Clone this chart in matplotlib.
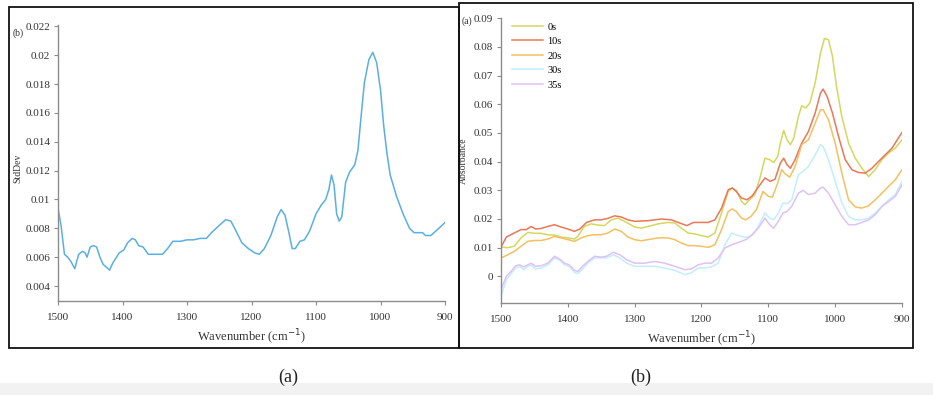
import matplotlib
matplotlib.use("Agg")
import matplotlib.pyplot as plt
from matplotlib.patches import Rectangle

plt.rcParams["font.family"] = ["Liberation Serif", "DejaVu Serif"]

# ---- panel (a) in the figure: standard deviation spectrum ----
std_wn = [1500, 1495, 1490, 1485, 1480, 1474, 1468, 1462, 1458, 1455, 1450, 1445, 1440,
          1435, 1430, 1420, 1415, 1405, 1398, 1392, 1385, 1380, 1375, 1368, 1360, 1350,
          1342, 1338, 1330, 1322, 1310, 1300, 1290, 1280, 1270, 1262, 1250, 1240, 1232,
          1225, 1215, 1205, 1195, 1188, 1180, 1170, 1160, 1154, 1148, 1142, 1137, 1132,
          1125, 1118, 1110, 1100, 1092, 1085, 1080, 1076, 1072, 1068, 1064, 1060, 1054,
          1048, 1040, 1035, 1030, 1025, 1018, 1012, 1006, 1000, 995, 990, 985, 975, 965,
          955, 948, 940, 935, 930, 922, 912, 900]
std_val = [0.0094, 0.0081, 0.0062, 0.0060, 0.0057, 0.0052, 0.0062, 0.0064, 0.0063, 0.0060,
           0.0067, 0.0068, 0.0067, 0.0060, 0.0055, 0.0051, 0.0056, 0.0063, 0.0065, 0.0070,
           0.0073, 0.0072, 0.0068, 0.0067, 0.0062, 0.0062, 0.0062, 0.0062, 0.0066, 0.0071,
           0.0071, 0.0072, 0.0072, 0.0073, 0.0073, 0.0077, 0.0082, 0.0086, 0.0085, 0.0079,
           0.0070, 0.0066, 0.0063, 0.0062, 0.0066, 0.0075, 0.0088, 0.0093, 0.0089, 0.0077,
           0.0066, 0.0066, 0.0071, 0.0072, 0.0078, 0.0090, 0.0096, 0.0100, 0.0107, 0.0117,
           0.0110, 0.0090, 0.0085, 0.0088, 0.0112, 0.0119, 0.0124, 0.0134, 0.0158, 0.0181,
           0.0197, 0.0202, 0.0195, 0.0176, 0.0151, 0.0132, 0.0117, 0.0102, 0.0090, 0.0080,
           0.0077, 0.0077, 0.0077, 0.0075, 0.0075, 0.0079, 0.0084]

# ---- panel (b): absorbance spectra over time ----
wn_0s = [1500, 1490, 1480, 1470, 1460, 1450, 1440, 1430, 1420, 1410, 1400, 1390, 1385,
         1375, 1365, 1355, 1345, 1335, 1325, 1315, 1300, 1290, 1280, 1265, 1250, 1240,
         1230, 1220, 1210, 1200, 1190, 1180, 1170, 1160, 1154, 1148, 1140, 1135, 1128,
         1120, 1112, 1105, 1098, 1092, 1086, 1082, 1077, 1072, 1067, 1062, 1055, 1050,
         1044, 1038, 1030, 1022, 1016, 1010, 1004, 998, 990, 980, 970, 960, 950, 940,
         930, 920, 910, 900]
abs_0s = [0.0102, 0.0100, 0.0105, 0.0134, 0.0153, 0.0150, 0.0150, 0.0145, 0.0144, 0.0137,
          0.0134, 0.0130, 0.0140, 0.0174, 0.0183, 0.0179, 0.0177, 0.0197, 0.0203, 0.0192,
          0.0172, 0.0168, 0.0174, 0.0183, 0.0188, 0.0186, 0.0168, 0.0151, 0.0148, 0.0142,
          0.0137, 0.0151, 0.0221, 0.0296, 0.0308, 0.0300, 0.0261, 0.0250, 0.0267, 0.0285,
          0.0348, 0.0412, 0.0407, 0.0397, 0.0418, 0.0465, 0.0509, 0.0476, 0.0459, 0.0482,
          0.0557, 0.0595, 0.0587, 0.0604, 0.0674, 0.0778, 0.0830, 0.0825, 0.0767, 0.0662,
          0.0557, 0.0465, 0.0412, 0.0377, 0.0348, 0.0372, 0.0407, 0.0430, 0.0447, 0.0476]

wn_10s = [1500, 1492, 1482, 1470, 1462, 1455, 1448, 1440, 1430, 1420, 1410, 1400, 1390,
          1382, 1372, 1360, 1350, 1340, 1330, 1320, 1310, 1300, 1280, 1260, 1245, 1235,
          1222, 1212, 1200, 1190, 1180, 1170, 1160, 1154, 1148, 1140, 1132, 1124, 1115,
          1105, 1097, 1090, 1082, 1077, 1072, 1067, 1060, 1050, 1040, 1030, 1022, 1018,
          1012, 1004, 995, 985, 975, 965, 955, 945, 935, 925, 915, 900]
abs_10s = [0.0102, 0.0137, 0.0149, 0.0163, 0.0163, 0.0174, 0.0165, 0.0167, 0.0174, 0.0180,
           0.0172, 0.0165, 0.0157, 0.0165, 0.0188, 0.0197, 0.0197, 0.0202, 0.0211, 0.0207,
           0.0197, 0.0192, 0.0194, 0.0200, 0.0197, 0.0188, 0.0177, 0.0188, 0.0188, 0.0188,
           0.0197, 0.0238, 0.0302, 0.0308, 0.0296, 0.0273, 0.0267, 0.0281, 0.0311, 0.0343,
           0.0331, 0.0339, 0.0395, 0.0412, 0.0389, 0.0377, 0.0407, 0.0465, 0.0505, 0.0569,
           0.0639, 0.0653, 0.0627, 0.0569, 0.0488, 0.0407, 0.0372, 0.0362, 0.0360, 0.0377,
           0.0401, 0.0424, 0.0447, 0.0502]

wn_20s = [1500, 1490, 1480, 1470, 1460, 1450, 1440, 1430, 1420, 1410, 1400, 1390, 1380,
          1370, 1360, 1350, 1340, 1330, 1320, 1310, 1300, 1290, 1280, 1265, 1250, 1240,
          1230, 1220, 1210, 1200, 1190, 1180, 1170, 1160, 1154, 1148, 1140, 1134, 1126,
          1118, 1108, 1100, 1094, 1086, 1080, 1075, 1068, 1060, 1050, 1040, 1030, 1022,
          1018, 1010, 1000, 990, 980, 970, 960, 950, 940, 930, 920, 910, 900]
abs_20s = [0.0064, 0.0075, 0.0087, 0.0105, 0.0122, 0.0125, 0.0125, 0.0130, 0.0139, 0.0134,
           0.0128, 0.0122, 0.0134, 0.0142, 0.0145, 0.0145, 0.0151, 0.0165, 0.0157, 0.0137,
           0.0128, 0.0124, 0.0128, 0.0134, 0.0134, 0.0128, 0.0116, 0.0107, 0.0107, 0.0105,
           0.0101, 0.0110, 0.0163, 0.0226, 0.0235, 0.0226, 0.0203, 0.0197, 0.0209, 0.0232,
           0.0296, 0.0279, 0.0276, 0.0325, 0.0372, 0.0358, 0.0346, 0.0383, 0.0459, 0.0476,
           0.0534, 0.0581, 0.0581, 0.0546, 0.0465, 0.0360, 0.0267, 0.0242, 0.0238, 0.0246,
           0.0267, 0.0290, 0.0314, 0.0337, 0.0372]

wn_late = [1500, 1492, 1485, 1478, 1472, 1466, 1460, 1455, 1448, 1440, 1430, 1420, 1412,
           1405, 1398, 1390, 1385, 1378, 1370, 1360, 1350, 1342, 1332, 1322, 1312, 1300,
           1285, 1270, 1255, 1240, 1225, 1215, 1205, 1195, 1185, 1175, 1165, 1155, 1148,
           1140, 1132, 1124, 1115, 1105, 1098, 1092, 1085, 1078, 1072, 1065, 1055, 1048,
           1040, 1030, 1022, 1018, 1010, 1000, 990, 980, 970, 960, 950, 940, 930, 920,
           910, 900]
abs_30s = [-0.0070, -0.0012, 0.0009, 0.0029, 0.0035, 0.0023, 0.0035, 0.0040, 0.0026, 0.0029,
           0.0040, 0.0064, 0.0056, 0.0040, 0.0035, 0.0014, 0.0009, 0.0026, 0.0046, 0.0064,
           0.0064, 0.0064, 0.0075, 0.0064, 0.0046, 0.0035, 0.0035, 0.0035, 0.0029, 0.0021,
           0.0006, 0.0012, 0.0029, 0.0029, 0.0033, 0.0046, 0.0110, 0.0151, 0.0145, 0.0139,
           0.0136, 0.0145, 0.0174, 0.0221, 0.0203, 0.0197, 0.0221, 0.0256, 0.0253, 0.0267,
           0.0354, 0.0366, 0.0383, 0.0424, 0.0459, 0.0453, 0.0407, 0.0331, 0.0256, 0.0209,
           0.0197, 0.0197, 0.0203, 0.0221, 0.0244, 0.0267, 0.0285, 0.0331]
abs_35s = [-0.0046, 0.0000, 0.0017, 0.0037, 0.0040, 0.0033, 0.0040, 0.0046, 0.0035, 0.0037,
           0.0046, 0.0070, 0.0060, 0.0046, 0.0040, 0.0021, 0.0017, 0.0035, 0.0052, 0.0070,
           0.0067, 0.0070, 0.0084, 0.0075, 0.0058, 0.0046, 0.0046, 0.0052, 0.0046, 0.0035,
           0.0023, 0.0026, 0.0040, 0.0046, 0.0046, 0.0064, 0.0099, 0.0110, 0.0116, 0.0122,
           0.0130, 0.0145, 0.0168, 0.0203, 0.0180, 0.0168, 0.0192, 0.0221, 0.0226, 0.0244,
           0.0290, 0.0300, 0.0285, 0.0290, 0.0308, 0.0311, 0.0290, 0.0250, 0.0209, 0.0180,
           0.0180, 0.0188, 0.0197, 0.0215, 0.0244, 0.0261, 0.0279, 0.0319]

series_labels = ["0s", "10s", "20s", "30s", "35s"]
series_colors = ["#d5d75e", "#e9775a", "#f3c062", "#c2eefe", "#dfc2f2"]

W, H = 933, 395
fig = plt.figure(figsize=(W / 100, H / 100), dpi=100)


def px_box(x0, y0, x1, y1):
    # pixel box (top-left origin) -> figure fraction [left, bottom, width, height]
    return [x0 / W, 1 - y1 / H, (x1 - x0) / W, (y1 - y0) / H]


def style_axes(ax):
    for side in ("top", "right"):
        ax.spines[side].set_visible(False)
    for side in ("left", "bottom"):
        ax.spines[side].set_color("#8c8c8c")
        ax.spines[side].set_linewidth(1.0)
    ax.tick_params(direction="out", length=3, width=0.8, color="#8c8c8c",
                   labelsize=8, labelcolor="#333333", pad=2.5)
    ax.tick_params(axis="x", pad=6)
    ax.set_xlim(1500, 900)
    ax.set_xticks([1500, 1400, 1300, 1200, 1100, 1000, 900])
    ax.set_xlabel("Wavenumber (cm$^{-1}$)", fontsize=9, color="#333333", labelpad=4)


# gray band at the bottom and the panel frames
fig.patches.append(Rectangle((0, 0), 1, 12 / H, transform=fig.transFigure,
                             facecolor="#f2f2f2", edgecolor="none", zorder=0))
for (x0, y0, x1, y1) in [(9, 7, 459, 348), (459, 3, 913, 348)]:
    l, b, w, h = px_box(x0, y0, x1, y1)
    fig.patches.append(Rectangle((l, b), w, h, transform=fig.transFigure,
                                 facecolor="none", edgecolor="#111111", linewidth=1.3, zorder=1))

# left panel
ax1 = fig.add_axes(px_box(58, 25, 445, 301))
ax1.plot(std_wn, std_val, color="#5aafe2", linewidth=1.1)
style_axes(ax1)
ax1.set_ylim(0.00296, 0.0221)
ax1.set_yticks([0.004, 0.006, 0.008, 0.01, 0.012, 0.014, 0.016, 0.018, 0.02, 0.022])
ax1.set_yticklabels(["0.004", "0.006", "0.008", "0.01", "0.012", "0.014", "0.016",
                     "0.018", "0.02", "0.022"])
ax1.set_ylabel("StdDev", fontsize=7, color="#333333")
ax1.yaxis.set_label_coords(-0.093, 0.48)
fig.text(13 / W, 1 - 33 / H, "(b)", fontsize=7, color="#333333", va="center")

# right panel
ax2 = fig.add_axes(px_box(501, 18, 902, 303))
series_wn = [wn_0s, wn_10s, wn_20s, wn_late, wn_late]
series_val = [abs_0s, abs_10s, abs_20s, abs_30s, abs_35s]
for wn, val, lab, col in zip(series_wn, series_val, series_labels, series_colors):
    ax2.plot(wn, val, color=col, linewidth=1.1, label=lab)
style_axes(ax2)
ax2.set_ylim(-0.0093, 0.0901)
ax2.set_yticks([0, 0.01, 0.02, 0.03, 0.04, 0.05, 0.06, 0.07, 0.08, 0.09])
ax2.set_yticklabels(["0", "0.01", "0.02", "0.03", "0.04", "0.05", "0.06", "0.07",
                     "0.08", "0.09"])
ax2.set_ylabel("Absorbance", fontsize=7, color="#333333")
ax2.yaxis.set_label_coords(-0.082, 0.50)
ax2.legend(loc="upper left", bbox_to_anchor=(0.027, 0.985), frameon=False, fontsize=7.5,
           handlelength=3.0, handletextpad=0.4, labelspacing=0.5, borderpad=0,
           borderaxespad=0)
fig.text(462 / W, 1 - 21 / H, "(a)", fontsize=7, color="#333333", va="center")

# captions under the panels
fig.text(288 / W, 1 - 377 / H, "(a)", fontsize=13, color="#222222", ha="center", va="center")
fig.text(641 / W, 1 - 377 / H, "(b)", fontsize=13, color="#222222", ha="center", va="center")

fig.savefig("out.png", dpi=100)
